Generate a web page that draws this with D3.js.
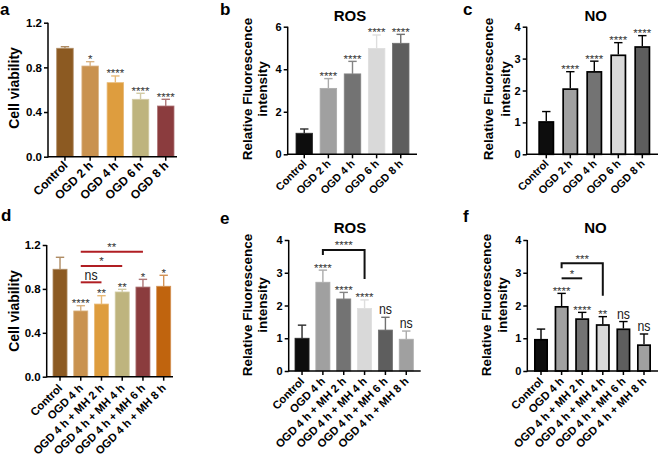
<!DOCTYPE html>
<html><head><meta charset="utf-8">
<script src="https://cdn.jsdelivr.net/npm/d3@7"></script>
<style>body{margin:0;background:#fff}svg{display:block}text{font-family:"Liberation Sans",Arial,Helvetica,sans-serif}</style>
</head><body><svg id="chart" width="661" height="457"></svg>
<script>
// ---------- DATA ----------
const catsTime = ["Control", "OGD 2 h", "OGD 4 h", "OGD 6 h", "OGD 8 h"];
const catsMH = ["Control", "OGD 4 h", "OGD 4 h + MH 2 h", "OGD 4 h + MH 4 h", "OGD 4 h + MH 6 h", "OGD 4 h + MH 8 h"];

const viabilityTime = [0.971, 0.812, 0.663, 0.514, 0.454];
const viabilityTimeSD = [0.014, 0.039, 0.060, 0.054, 0.060];
const rosTime = [0.99, 3.10, 3.78, 4.98, 5.22];
const rosTimeSD = [0.20, 0.46, 0.59, 0.63, 0.42];
const noTime = [1.04, 2.07, 2.61, 3.13, 3.39];
const noTimeSD = [0.30, 0.52, 0.31, 0.37, 0.33];

const viabilityMH = [0.979, 0.599, 0.662, 0.772, 0.817, 0.824];
const viabilityMHSD = [0.109, 0.048, 0.076, 0.024, 0.070, 0.100];
const rosMH = [1.00, 2.71, 2.20, 1.91, 1.25, 0.97];
const rosMHSD = [0.40, 0.37, 0.20, 0.26, 0.39, 0.25];
const noMH = [0.98, 1.985, 1.61, 1.43, 1.30, 0.815];
const noMHSD = [0.30, 0.385, 0.18, 0.23, 0.21, 0.315];

const sigA = ["", "*", "****", "****", "****"];
const sigB = ["", "****", "****", "****", "****"];
const sigC = ["", "****", "****", "****", "****"];
const sigD = ["", "****", "**", "**", "*", "*"];
const sigE = ["", "****", "****", "****", "ns", "ns"];
const sigF = ["", "****", "****", "**", "ns", "ns"];

const ticksViability = [0, 0.4, 0.8, 1.2];
const ticksRosTime = [0, 2, 4, 6];
const ticksFour = [0, 1, 2, 3, 4];

// comparisons: [fromIndex, toIndex, label, level(data units)]
const compD = [[1, 4, "**", 1.139], [1, 3, "*", 1.009], [1, 2, "ns", 0.86]];
const compE = [[1, 3, "****", 3.695]];
const compF = [[1, 3, "***", 3.29], [1, 2, "*", 2.83]];

// ---------- STYLE ----------
const browns5 = ["#8C5A22", "#C9924F", "#DE9D3E", "#BEB47E", "#8B3C3E"];
const browns6 = ["#8C5A22", "#C9924F", "#DE9D3E", "#BEB47E", "#8B3C3E", "#C0640E"];
const grays5 = ["#0d0d0d", "#a0a0a0", "#737373", "#d9d9d9", "#5e5e5e"];
const grays6 = ["#0d0d0d", "#a0a0a0", "#737373", "#d9d9d9", "#5e5e5e", "#a0a0a0"];

const svg = d3.select("#chart");

function nsText(t) {
  t.attr("font-size", 15).attr("fill", "#1a1a1a").attr("textLength", 13).attr("lengthAdjust", "spacingAndGlyphs");
}

function panel(c) {
  const g = svg.append("g");
  const x = d3.scaleBand().domain(c.cats).range(c.band).paddingInner(c.pi).paddingOuter(0);
  const y = d3.scaleLinear().domain([0, c.ymax]).range([c.y0, c.y1]);
  const bw = x.bandwidth();
  const sw = c.outline ? 1.7 : 0;

  // bars
  g.selectAll("rect.bar").data(c.cats).join("rect").attr("class", "bar")
    .attr("x", d => x(d) + sw / 2)
    .attr("width", bw - sw)
    .attr("y", (d, i) => y(c.mean[i]) + sw / 2)
    .attr("height", (d, i) => y(0) - y(c.mean[i]) - sw / 2)
    .attr("fill", (d, i) => c.fill[i])
    .attr("stroke", (d, i) => c.outline ? "#000" : c.errColor(c.fill[i]))
    .attr("stroke-width", c.outline ? sw : 0.8);

  // error bars (upper only)
  const cap = 4.2;
  c.cats.forEach((d, i) => {
    const cx = x(d) + bw / 2;
    const col = c.outline ? "#000" : c.errColor(c.fill[i]);
    const yt = y(c.mean[i] + c.sd[i]);
    g.append("line").attr("x1", cx).attr("x2", cx).attr("y1", y(c.mean[i])).attr("y2", yt)
      .attr("stroke", col).attr("stroke-width", 1.4);
    g.append("line").attr("x1", cx - cap).attr("x2", cx + cap).attr("y1", yt).attr("y2", yt)
      .attr("stroke", col).attr("stroke-width", 1.4);
    const s = c.sig[i];
    if (s) {
      const t = g.append("text").attr("x", cx).attr("text-anchor", "middle").text(s);
      if (s === "ns") { t.attr("y", yt - 3); nsText(t); }
      else t.attr("y", yt + 1.5).attr("font-size", 11.5).attr("fill", "#333");
    }
  });

  // comparisons
  (c.comps || []).forEach(([a, b, lab, lev], k) => {
    const xa = x(c.cats[a]) + bw / 2, xb = x(c.cats[b]) + bw / 2;
    const yl = y(lev);
    if (c.compStyle === "red") {
      g.append("line").attr("x1", xa).attr("x2", xb).attr("y1", yl).attr("y2", yl)
        .attr("stroke", "#B01E23").attr("stroke-width", 2);
    } else if (c.compStyle === "bracket" && k === 0) {
      const yLeft = yl + 5, yRight = y(c.mean[b] + c.sd[b]) - 21;
      g.append("path").attr("d", `M${xa},${yLeft}V${yl}H${xb}V${yRight}`)
        .attr("fill", "none").attr("stroke", "#111").attr("stroke-width", 2);
    } else {
      g.append("line").attr("x1", xa).attr("x2", xb).attr("y1", yl).attr("y2", yl)
        .attr("stroke", "#111").attr("stroke-width", 2);
    }
    const t = g.append("text").attr("x", (xa + xb) / 2).attr("text-anchor", "middle").text(lab);
    if (lab === "ns") { t.attr("y", yl - 2.5); nsText(t); }
    else t.attr("y", yl - 0.5).attr("font-size", 11.5).attr("fill", "#333");
  });

  // y axis
  const ya = g.append("g").attr("transform", `translate(${c.x0},0)`)
    .call(d3.axisLeft(y).tickValues(c.yticks).tickSize(4).tickSizeOuter(0).tickPadding(2).tickFormat(c.fmt));
  ya.selectAll("path,line").attr("stroke", "#000").attr("stroke-width", 1.5);
  ya.select(".domain").attr("d", `M0,${c.y0 + 0.75}V${c.y1}`);
  ya.selectAll("text").attr("font-size", c.yFs).attr("font-weight", "bold").attr("fill", "#000")
    .style("font-family", '"Liberation Sans",Arial,sans-serif');

  // x axis
  const xa = g.append("g").attr("transform", `translate(0,${c.y0})`)
    .call(d3.axisBottom(x).tickSize(4).tickSizeOuter(0));
  xa.selectAll("path,line").attr("stroke", "#000").attr("stroke-width", 1.5);
  xa.select(".domain").attr("d", `M${c.x0},0H${c.x1}`);
  xa.selectAll(".tick text").attr("x", 0).attr("y", 0).attr("dy", null)
    .attr("transform", `translate(${c.lx},${c.ly}) rotate(-45)`)
    .attr("text-anchor", "end").attr("font-size", c.xFs).attr("font-weight", "bold").attr("fill", "#000")
    .style("font-family", '"Liberation Sans",Arial,sans-serif');

  // y title
  const tt = g.append("text").attr("transform", `translate(0,${c.ty}) rotate(-90)`)
    .attr("text-anchor", "middle").attr("font-size", c.tFs).attr("font-weight", "bold");
  c.title.forEach((line, i) => {
    tt.append("tspan").attr("x", 0).attr("y", c.tx[i]).text(line);
  });

  if (c.head) {
    g.append("text").attr("x", c.head[1]).attr("y", c.head[2]).attr("text-anchor", "middle")
      .attr("font-size", 15).attr("font-weight", "bold").text(c.head[0]);
  }
  g.append("text").attr("x", c.letter[1]).attr("y", c.letter[2])
    .attr("font-size", 17).attr("font-weight", "bold").text(c.letter[0]);
}

const tint = f => d3.interpolateRgb(f, "#fff")(0.3);
const tintG = f => d3.interpolateRgb(f, "#fff")(0.12);
const fmt1 = d3.format(".1f"), fmt0 = d3.format("d");

panel({cats: catsTime, mean: viabilityTime, sd: viabilityTimeSD, sig: sigA, fill: browns5, errColor: tint,
  x0: 48, x1: 177, band: [56.7, 174], pi: 0.345, y0: 156.7, y1: 22.7, ymax: 1.2, yticks: ticksViability, fmt: fmt1,
  yFs: 11.5, xFs: 12, lx: 3.5, ly: 9.5, tFs: 14, title: ["Cell viability"], tx: [18.5], ty: 88, letter: ["a", 0, 15]});
panel({cats: catsTime, mean: rosTime, sd: rosTimeSD, sig: sigB, fill: grays5, errColor: tintG,
  x0: 287.7, x1: 417, band: [296, 409], pi: 0.315, y0: 154.3, y1: 26.7, ymax: 6, yticks: ticksRosTime, fmt: fmt0,
  yFs: 11, xFs: 10.8, lx: 3, ly: 10, tFs: 13.5, title: ["Relative Fluorescence", "intensity"], tx: [251.5, 267], ty: 89,
  head: ["ROS", 350, 21], letter: ["b", 220, 15]});
panel({cats: catsTime, mean: noTime, sd: noTimeSD, sig: sigC, fill: grays5, outline: true,
  x0: 526.7, x1: 658, band: [538.3, 650.3], pi: 0.335, y0: 154.3, y1: 26.7, ymax: 4, yticks: ticksFour, fmt: fmt0,
  yFs: 11, xFs: 10.8, lx: 3, ly: 10, tFs: 13.5, title: ["Relative Fluorescence", "intensity"], tx: [493.3, 509.5], ty: 89,
  head: ["NO", 595.7, 21], letter: ["c", 463, 15]});
panel({cats: catsMH, mean: viabilityMH, sd: viabilityMHSD, sig: sigD, fill: browns6, errColor: tint,
  comps: compD, compStyle: "red",
  x0: 46.7, x1: 173, band: [53, 170.7], pi: 0.323, y0: 376.7, y1: 245, ymax: 1.2, yticks: ticksViability, fmt: fmt1,
  yFs: 11.5, xFs: 11.2, lx: 3, ly: 12, tFs: 14, title: ["Cell viability"], tx: [18.5], ty: 311, letter: ["d", 1, 221]});
panel({cats: catsMH, mean: rosMH, sd: rosMHSD, sig: sigE, fill: grays6, errColor: tintG,
  comps: compE, compStyle: "bracket",
  x0: 288.7, x1: 420.7, band: [295, 413.3], pi: 0.325, y0: 371, y1: 240, ymax: 4, yticks: ticksFour, fmt: fmt0,
  yFs: 11, xFs: 11.2, lx: 3, ly: 11, tFs: 13.5, title: ["Relative Fluorescence", "intensity"], tx: [251.7, 267], ty: 305,
  head: ["ROS", 350, 233], letter: ["e", 220, 224]});
panel({cats: catsMH, mean: noMH, sd: noMHSD, sig: sigF, fill: grays6, outline: true,
  comps: compF, compStyle: "bracket",
  x0: 527.3, x1: 658, band: [534, 651], pi: 0.32, y0: 371, y1: 240, ymax: 4, yticks: ticksFour, fmt: fmt0,
  yFs: 11, xFs: 11.2, lx: 3, ly: 11, tFs: 13.5, title: ["Relative Fluorescence", "intensity"], tx: [491, 507], ty: 305,
  head: ["NO", 595.5, 233], letter: ["f", 463, 222]});
</script></body></html>
